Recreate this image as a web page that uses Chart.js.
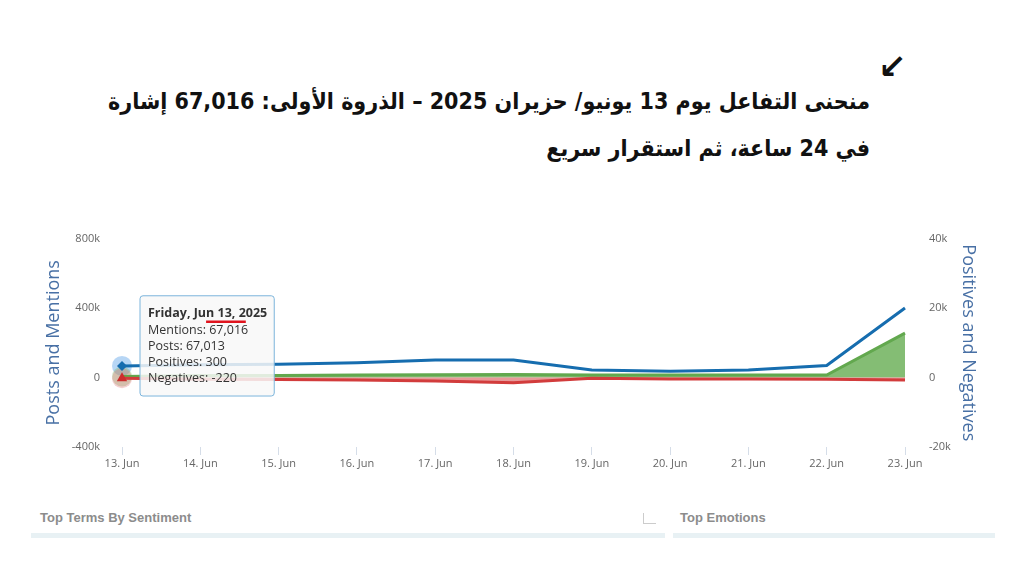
<!DOCTYPE html>
<html>
<head>
<meta charset="utf-8">
<script src="https://cdn.jsdelivr.net/npm/chart.js@4.4.1/dist/chart.umd.min.js"></script>
<style>
  html, body { margin: 0; padding: 0; background: #fff; }
  body { width: 1024px; height: 576px; position: relative; overflow: hidden; }
  #arrow { position: absolute; left: 878px; top: 46px; font: bold 34px "DejaVu Sans"; color: #111; }
  #title { position: absolute; right: 154px; top: 78px; width: 860px; direction: rtl; text-align: right; white-space: nowrap;
           font: bold 23px/47px "DejaVu Sans Condensed", "DejaVu Sans"; color: #111; }
  #chartBox { position: absolute; left: 30px; top: 208px; width: 972px; height: 270px; }
  .panel { position: absolute; top: 510px; font: bold 13px "Liberation Sans Narrow", "Liberation Sans"; color: #8c8c8c; }
  .bar { position: absolute; top: 533px; height: 5px; background: #e8f1f4; }
  #icon { position: absolute; left: 643px; top: 513px; width: 12px; height: 10px; border-left: 1px solid #ccc; border-bottom: 1px solid #ccc; }
</style>
</head>
<body>
<div id="arrow">↙</div>
<div id="title">منحنى التفاعل يوم 13 يونيو/ حزيران 2025 – الذروة الأولى: 67,016 إشارة<br>في 24 ساعة، ثم استقرار سريع</div>
<div id="chartBox"><canvas id="engagementChart"></canvas></div>
<div class="panel" style="left:40px">Top Terms By Sentiment</div>
<div id="icon"></div>
<div class="panel" style="left:680px">Top Emotions</div>
<div class="bar" style="left:31px; width:634px"></div>
<div class="bar" style="left:673px; width:322px"></div>

<script>
// Данные графика
const days = ['13. Jun', '14. Jun', '15. Jun', '16. Jun', '17. Jun', '18. Jun', '19. Jun', '20. Jun', '21. Jun', '22. Jun', '23. Jun'];
const mentions = [67016, 74000, 77000, 85000, 101000, 101000, 44000, 36000, 44000, 69000, 400000];
const posts = [67013, 73900, 76900, 84900, 100900, 100900, 43900, 35900, 43900, 68900, 399000];
const positives = [300, 570, 600, 700, 800, 900, 750, 700, 700, 700, 12800];
const negatives = [-220, -500, -550, -700, -1000, -1500, -200, -400, -450, -500, -700];
const leftTicks = [-400000, 0, 400000, 800000];
const rightTicks = [-20000, 0, 20000, 40000];
const tooltipTitle = 'Friday, Jun 13, 2025';

const fmt = v => v.toLocaleString('en-US');
const kfmt = v => v === 0 ? '0' : (v / 1000) + 'k';

Chart.Tooltip.positioners.nearFirst = function(items) {
    if (!items.length) return false;
    const el = items[0].element;
    return { x: el.x + 18, y: el.y - 20 };
};

// Ореолы вокруг активных точек
const haloPlugin = {
    id: 'halo',
    beforeDatasetsDraw(chart) {
        const ctx = chart.ctx;
        const halos = [[0, 'rgba(124,181,236,0.55)'], [1, 'rgba(120,180,100,0.35)'], [2, 'rgba(220,120,120,0.35)']];
        halos.forEach(([ds, color]) => {
            const p = chart.getDatasetMeta(ds).data[0];
            ctx.save();
            ctx.fillStyle = color;
            ctx.beginPath();
            ctx.arc(p.x, p.y, 10, 0, Math.PI * 2);
            ctx.fill();
            ctx.restore();
        });
    }
};

// Красное подчёркивание даты в подсказке
const underlinePlugin = {
    id: 'underline',
    afterTooltipDraw(chart, args) {
        const tt = args.tooltip;
        const ctx = chart.ctx;
        ctx.save();
        ctx.font = 'bold 12.5px "Open Sans"';
        const x0 = tt.x + 8 + ctx.measureText('Friday, Ju').width;
        const x1 = tt.x + 8 + ctx.measureText('Friday, Jun 13, 2').width;
        const y = tt.y + 26;
        ctx.strokeStyle = '#e0141e';
        ctx.lineWidth = 2.5;
        ctx.beginPath();
        ctx.moveTo(x0, y);
        ctx.lineTo(x1, y);
        ctx.stroke();
        ctx.restore();
    }
};

const firstOnly = size => ctx => ctx.dataIndex === 0 ? size : 0;

const ctx = document.getElementById('engagementChart').getContext('2d');
const chart = new Chart(ctx, {
    type: 'line',
    data: {
        labels: days,
        datasets: [{
            label: 'Mentions',
            data: mentions,
            yAxisID: 'yLeft',
            borderColor: 'rgb(22,109,175)',
            backgroundColor: 'rgb(22,109,175)',
            borderWidth: 3,
            pointStyle: 'rectRot',
            pointRadius: firstOnly(5),
            pointBorderWidth: 0,
            tension: 0,
            order: 1
        }, {
            label: 'Positives',
            data: positives,
            yAxisID: 'yRight',
            borderColor: 'rgb(98,168,78)',
            backgroundColor: 'rgba(110,178,92,0.85)',
            borderWidth: 3,
            fill: 'origin',
            pointRadius: 0,
            tension: 0,
            order: 3
        }, {
            label: 'Negatives',
            data: negatives,
            yAxisID: 'yRight',
            borderColor: 'rgb(210,60,60)',
            backgroundColor: 'rgba(222,110,110,0.7)',
            pointBackgroundColor: 'rgb(205,45,45)',
            borderWidth: 3,
            fill: 'origin',
            pointStyle: 'triangle',
            pointRadius: firstOnly(6),
            pointBorderWidth: 0,
            tension: 0,
            order: 2
        }]
    },
    options: {
        responsive: true,
        maintainAspectRatio: false,
        animation: false,
        events: [],
        layout: { padding: { top: 2, left: 0, right: 0, bottom: 0 } },
        plugins: {
            legend: { display: false },
            tooltip: {
                enabled: true,
                mode: 'index',
                position: 'nearFirst',
                xAlign: 'left',
                yAlign: 'center',
                caretSize: 0,
                caretPadding: 0,
                displayColors: false,
                backgroundColor: 'rgba(248,248,248,0.85)',
                borderColor: 'rgb(124,181,220)',
                borderWidth: 1,
                cornerRadius: 3,
                padding: { left: 8, right: 7, top: 10, bottom: 9 },
                titleColor: '#333',
                bodyColor: '#333',
                titleFont: { family: 'Open Sans', size: 12.5, weight: 'bold', lineHeight: 1.3 },
                bodyFont: { family: 'Open Sans', size: 12.5, lineHeight: 1.3 },
                titleMarginBottom: 0,
                bodySpacing: 0,
                callbacks: {
                    title: () => tooltipTitle,
                    label: item => {
                        const i = item.dataIndex;
                        if (item.datasetIndex === 0) return ['Mentions: ' + fmt(mentions[i]), 'Posts: ' + fmt(posts[i])];
                        if (item.datasetIndex === 1) return 'Positives: ' + fmt(positives[i]);
                        return 'Negatives: ' + fmt(negatives[i]);
                    }
                }
            }
        },
        scales: {
            x: {
                offset: false,
                border: { display: false },
                grid: { drawOnChartArea: false, drawTicks: true, tickLength: 8, color: '#d5dde8' },
                ticks: { color: '#666', font: { family: 'Open Sans', size: 11 }, padding: 2, maxRotation: 0 },
                afterFit: s => { s.height = 31; }
            },
            yLeft: {
                position: 'left',
                min: -400000,
                max: 800000,
                border: { display: false },
                grid: { display: false, drawTicks: false },
                afterBuildTicks: s => { s.ticks = leftTicks.map(v => ({ value: v })); },
                ticks: { color: '#666', font: { family: 'Open Sans', size: 11 }, padding: 22, callback: kfmt },
                title: { display: true, text: 'Posts and Mentions', color: 'rgb(72,112,165)',
                         font: { family: 'Open Sans', size: 18 }, padding: { top: 13, bottom: 0 } },
                afterFit: s => { s.width = 92; }
            },
            yRight: {
                position: 'right',
                min: -20000,
                max: 40000,
                border: { display: false },
                grid: { display: false, drawTicks: false },
                afterBuildTicks: s => { s.ticks = rightTicks.map(v => ({ value: v })); },
                ticks: { color: '#666', font: { family: 'Open Sans', size: 11 }, padding: 24, callback: kfmt },
                title: { display: true, text: 'Positives and Negatives', color: 'rgb(72,112,165)',
                         font: { family: 'Open Sans', size: 18 }, padding: { top: 23, bottom: 0 } },
                afterFit: s => { s.width = 97; }
            }
        }
    },
    plugins: [haloPlugin, underlinePlugin]
});

chart.tooltip.setActiveElements([
    { datasetIndex: 0, index: 0 },
    { datasetIndex: 1, index: 0 },
    { datasetIndex: 2, index: 0 }
], { x: 0, y: 0 });
chart.update();
</script>
</body>
</html>
